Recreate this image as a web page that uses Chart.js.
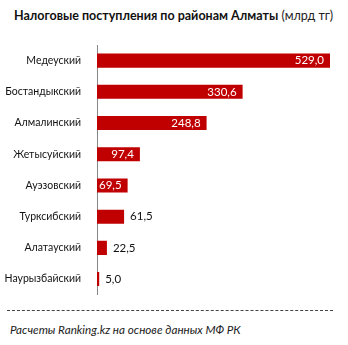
<!DOCTYPE html>
<html>
<head>
<meta charset="utf-8">
<script src="https://cdn.jsdelivr.net/npm/chart.js@4"></script>
<style>
  body { margin:0; width:348px; height:345px; background:#fff; position:relative; overflow:hidden; font-family:Lato, sans-serif; }
  .title { position:absolute; left:14px; top:8px; font-size:12.5px; color:#111; white-space:nowrap; }
  .title b { font-weight:bold; }
  .title span { color:#222; }
  .wrap { position:absolute; left:0; top:0; width:348px; height:309px; }
  .dash { position:absolute; left:7px; top:310px; width:326px; border-top:1px dashed #444; }
  .foot { position:absolute; left:10px; top:322px; font-size:11.7px; font-style:italic; color:#222; white-space:nowrap; }
</style>
</head>
<body>
<div class="title"><b>Налоговые поступления по районам Алматы</b> <span>(млрд тг)</span></div>
<div class="wrap"><canvas id="c"></canvas></div>
<div class="dash"></div>
<div class="foot">Расчеты Ranking.kz на основе данных МФ РК</div>
<script>
const districts = ['Медеуский','Бостандыкский','Алмалинский','Жетысуйский','Ауэзовский','Турксибский','Алатауский','Наурызбайский'];
const revenue = [529.0, 330.6, 248.8, 97.4, 69.5, 61.5, 22.5, 5.0];

const fmt = v => v.toFixed(1).replace('.', ',');

const barLabels = {
  id: 'barLabels',
  afterDatasetsDraw(chart){
    const ctx = chart.ctx;
    const meta = chart.getDatasetMeta(0);
    ctx.save();
    ctx.font = '11.5px Lato, sans-serif';
    ctx.textBaseline = 'middle';
    meta.data.forEach((bar, i)=>{
      const txt = fmt(revenue[i]);
      const w = ctx.measureText(txt).width;
      const len = bar.x - bar.base;
      if (len >= w + 7) {
        ctx.fillStyle = '#fff';
        ctx.textAlign = 'right';
        ctx.fillText(txt, bar.x - 6, bar.y);
      } else {
        ctx.fillStyle = '#111';
        ctx.textAlign = 'left';
        ctx.fillText(txt, bar.x + 6, bar.y);
      }
    });
    ctx.restore();
  }
};

new Chart(document.getElementById('c'), {
  type: 'bar',
  data: {
    labels: districts,
    datasets: [{
      data: revenue,
      backgroundColor: '#c00000',
      barPercentage: 0.45,
      categoryPercentage: 1
    }]
  },
  options: {
    indexAxis: 'y',
    responsive: true,
    maintainAspectRatio: false,
    animation: false,
    layout: { padding: { top: 45, bottom: 5, right: 18, left: 0 } },
    plugins: { legend: { display: false }, tooltip: { enabled: false } },
    scales: {
      x: { display: false, min: 0, max: 529 },
      y: {
        grid: { display: false },
        border: { display: true, color: '#888', width: 1 },
        ticks: { color: '#111', padding: 8, font: { family: 'Lato, sans-serif', size: 10.5 } },
        afterFit: s => { s.width = 97; }
      }
    }
  },
  plugins: [barLabels]
});
</script>
</body>
</html>
